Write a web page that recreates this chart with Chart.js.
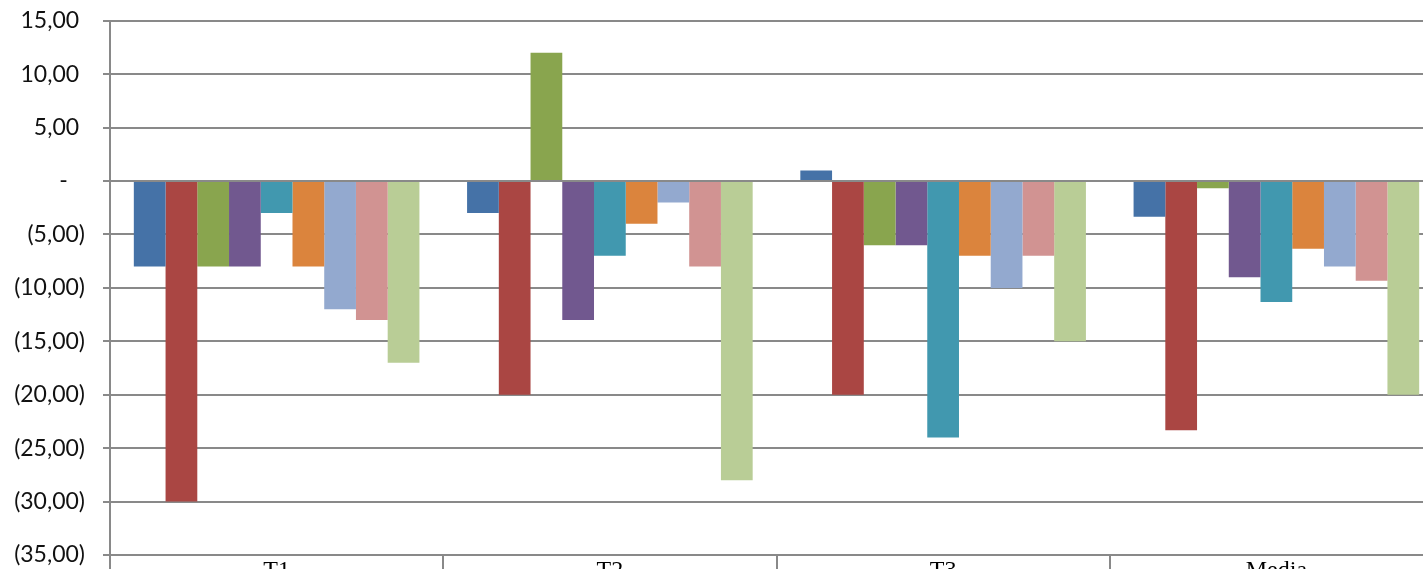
<!DOCTYPE html>
<html lang="es">
	<head>
		<meta charset="UTF-8" />
		<title>T1 - T3</title>
		<script src="https://cdn.jsdelivr.net/npm/chart.js"></script>
		<style>
			html, body { margin: 0; padding: 0; overflow: hidden; background: #fff; }
			/* the plot runs past the window at the right and bottom, as in the picture */
			#wrap { position: absolute; left: 0; top: -11px; width: 1445px; height: 611px; }
		</style>
	</head>
	<body>
		<div id="wrap"><canvas id="chart"></canvas></div>
		<script>
			const categories = ["T1", "T2", "T3", "Media"];

			const serie1 = [-8, -3, 1, -3.33];
			const serie2 = [-30, -20, -20, -23.33];
			const serie3 = [-8, 12, -6, -0.67];
			const serie4 = [-8, -13, -6, -9];
			const serie5 = [-3, -7, -24, -11.33];
			const serie6 = [-8, -4, -7, -6.33];
			const serie7 = [-12, -2, -10, -8];
			const serie8 = [-13, -8, -7, -9.33];
			const serie9 = [-17, -28, -15, -20];

			const colors = [
				"#4572A7", "#AA4643", "#89A54E", "#71588F", "#4198AF",
				"#DB843D", "#93A9CF", "#D19392", "#B9CD96",
			];
			const series = [serie1, serie2, serie3, serie4, serie5, serie6, serie7, serie8, serie9];

			const gridColor = "#898989";

			// accounting style: 5,00 / (5,00) / -
			function fmtTick(v) {
				const s = Math.abs(v).toFixed(2).replace(".", ",");
				if (v > 0) return s + " ";
				if (v < 0) return "(" + s + ")";
				return "-\u2003";
			}

			new Chart(document.getElementById("chart"), {
				type: "bar",
				data: {
					labels: categories,
					datasets: series.map((d, i) => ({
						label: "Serie " + (i + 1),
						data: d,
						backgroundColor: colors[i],
						borderWidth: 0,
						categoryPercentage: 0.857,
						barPercentage: 1.0,
					})),
				},
				options: {
					responsive: true,
					maintainAspectRatio: false,
					animation: false,
					layout: { padding: { top: 0, right: 2, bottom: 0, left: 0 } },
					plugins: {
						legend: { display: false },
						tooltip: { enabled: false },
					},
					scales: {
						x: {
							offset: true,
							grid: {
								offset: true,
								drawOnChartArea: false,
								drawTicks: true,
								tickLength: 20,
								color: gridColor,
								lineWidth: 2,
							},
							border: { color: gridColor, width: 2 },
							ticks: {
								padding: -19,
								color: "#000",
								font: { family: "Liberation Serif", size: 24 },
							},
							afterFit: (scale) => { scale.height = 45; },
						},
						y: {
							min: -35,
							max: 15,
							ticks: {
								stepSize: 5,
								padding: 18,
								color: "#111",
								font: { family: "Lato", size: 23 },
								callback: (v) => fmtTick(v),
							},
							grid: {
								color: gridColor,
								lineWidth: 2,
								tickLength: 7,
							},
							border: { color: gridColor, width: 2 },
							afterFit: (scale) => { scale.width = 110; },
						},
					},
				},
			});
		</script>
	</body>
</html>
